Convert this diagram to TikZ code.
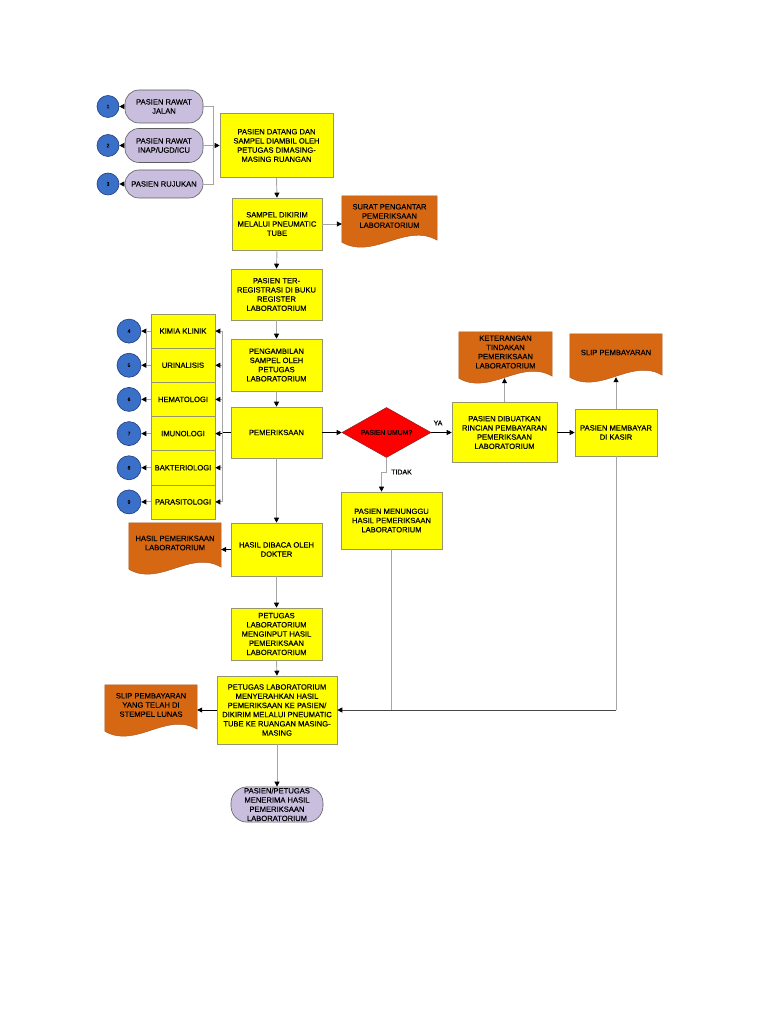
\documentclass[tikz,border=0pt]{standalone}
\usepackage{fontspec}
\setmainfont{Liberation Sans}
\newfontfamily\heavysans{Liberation Sans}[FakeBold=0.3]
\usetikzlibrary{shapes.geometric,arrows.meta,calc,backgrounds}

\definecolor{boxyellow}{RGB}{255,255,0}
\definecolor{boxedge}{RGB}{150,150,110}
\definecolor{termfill}{RGB}{201,190,222}
\definecolor{termedge}{RGB}{95,95,95}
\definecolor{numblue}{RGB}{58,112,200}
\definecolor{numedge}{RGB}{30,60,130}
\definecolor{docorange}{RGB}{214,104,20}
\definecolor{docedge}{RGB}{175,90,35}
\definecolor{diared}{RGB}{255,0,0}
\definecolor{diaedge}{RGB}{150,30,30}
\definecolor{conngray}{RGB}{165,165,165}
\definecolor{conndark}{RGB}{70,70,70}

\newcommand{\flowfont}{\heavysans\fontsize{7.6}{9.2}\selectfont}
\newcommand{\numfont}{\heavysans\fontsize{5}{6}\selectfont}

\tikzset{
  proc/.style={draw=boxedge, fill=boxyellow, line width=0.6pt, align=center, inner sep=1pt, font=\flowfont},
  term/.style={draw=termedge, fill=termfill, line width=0.6pt, rounded corners=14pt, align=center, inner sep=1pt, font=\flowfont},
  doc/.style={align=center, inner sep=1pt, font=\flowfont},
  docshape/.style={fill=docorange, draw=docedge, line width=0.5pt},
  numc/.style={circle, draw=numedge, fill=numblue, line width=0.6pt, inner sep=0pt, font=\numfont},
  decide/.style={diamond, draw=diaedge, fill=diared, line width=0.6pt, aspect=1.8, inner sep=0pt, minimum width=89pt, minimum height=50pt, font=\heavysans\fontsize{6.8}{8}\selectfont},
  lbl/.style={inner sep=1pt, font=\heavysans\fontsize{7}{8}\selectfont},
  conn/.style={draw=conngray, line width=0.9pt},
  connb/.style={draw=black, line width=0.8pt},
  connd/.style={draw=conndark, line width=0.9pt},
  arrowtip/.style={-{Triangle[black,length=5pt,width=5pt]}},
}

% document shape with a wavy lower edge
\newcommand{\docwave}[1]{%
  \filldraw[docshape] (#1.north west) -- (#1.north east) -- ($(#1.south east)+(0,4)$)
    .. controls ($(#1.south east)!0.33!(#1.south west)+(0,-14)$) and ($(#1.south west)!0.33!(#1.south east)+(0,24)$) .. ($(#1.south west)+(0,6)$) -- cycle;}

\begin{document}
\begin{tikzpicture}[x=1pt,y=-1pt]
\useasboundingbox (0,0) rectangle (768,1024);

% pasien masuk
\node (jalan) at (164,106.5) [term, minimum width=78pt, minimum height=33pt]{PASIEN RAWAT\\JALAN};
\node (inap) at (164,145.5) [term, minimum width=78pt, minimum height=34pt]{PASIEN RAWAT\\INAP/UGD/ICU};
\node (rujuk) at (164,184) [term, minimum width=78pt, minimum height=28pt]{PASIEN RUJUKAN};
\node (n1) at (108,106.5) [numc, minimum size=22pt]{1};
\node (n2) at (108,145.5) [numc, minimum size=22pt]{2};
\node (n3) at (108,184) [numc, minimum size=22pt]{3};

% alur utama
\node (datang) at (276.5,145.5) [proc, minimum width=113pt, minimum height=64pt]{PASIEN DATANG DAN\\SAMPEL DIAMBIL OLEH\\PETUGAS DIMASING-\\MASING RUANGAN};
\node (kirim) at (277,224) [proc, minimum width=90pt, minimum height=52pt]{SAMPEL DIKIRIM\\MELALUI PNEUMATIC\\TUBE};
\node (regis) at (276.5,294.5) [proc, minimum width=91pt, minimum height=51pt]{PASIEN TER-\\REGISTRASI DI BUKU\\REGISTER\\LABORATORIUM};
\node (ambil) at (276.5,365) [proc, minimum width=91pt, minimum height=52pt]{PENGAMBILAN\\SAMPEL OLEH\\PETUGAS\\LABORATORIUM};
\node (periksa) at (276.5,432.5) [proc, minimum width=91pt, minimum height=51pt]{PEMERIKSAAN};
\node (baca) at (276.5,549.5) [proc, minimum width=91pt, minimum height=53pt]{HASIL DIBACA OLEH\\DOKTER};
\node (input) at (276.5,634) [proc, minimum width=91pt, minimum height=52pt]{PETUGAS\\LABORATORIUM\\MENGINPUT HASIL\\PEMERIKSAAN\\LABORATORIUM};
\node (serah) at (277,710) [proc, minimum width=120pt, minimum height=68pt]{PETUGAS LABORATORIUM\\MENYERAHKAN HASIL\\PEMERIKSAAN KE PASIEN/\\DIKIRIM MELALUI PNEUMATIC\\TUBE KE RUANGAN MASING-\\MASING};
\node (terima) at (277,804.5) [term, minimum width=92pt, minimum height=35pt, rounded corners=16pt]{PASIEN/PETUGAS\\MENERIMA HASIL\\PEMERIKSAAN\\LABORATORIUM};

% keputusan dan pembayaran
\node (umum) at (386.5,432.5) [decide]{PASIEN UMUM?};
\node (rincian) at (504.5,432.5) [proc, minimum width=105pt, minimum height=60pt]{PASIEN DIBUATKAN\\RINCIAN PEMBAYARAN\\PEMERIKSAAN\\LABORATORIUM};
\node (bayar) at (616,432.5) [proc, minimum width=82pt, minimum height=47pt]{PASIEN MEMBAYAR\\DI KASIR};
\node (tunggu) at (391.5,520.5) [proc, minimum width=101pt, minimum height=57pt]{PASIEN MENUNGGU\\HASIL PEMERIKSAAN\\LABORATORIUM};
\node (ya) at (438,423) [lbl]{YA};
\node (tidak) at (390,472) [lbl, anchor=west]{TIDAK};

% laboratorium
\node (kimia) at (183,331.1) [proc, minimum width=64pt, minimum height=34.2pt]{KIMIA KLINIK};
\node (urin) at (183,365.25) [proc, minimum width=64pt, minimum height=34.2pt]{URINALISIS};
\node (hema) at (183,399.4) [proc, minimum width=64pt, minimum height=34.2pt]{HEMATOLOGI};
\node (imun) at (183,433.6) [proc, minimum width=64pt, minimum height=34.2pt]{IMUNOLOGI};
\node (bakt) at (183,467.75) [proc, minimum width=64pt, minimum height=34.2pt]{BAKTERIOLOGI};
\node (para) at (183,501.9) [proc, minimum width=64pt, minimum height=34.2pt]{PARASITOLOGI};
\node (n4) at (129,331.1) [numc, minimum size=24pt]{4};
\node (n5) at (129,365.25) [numc, minimum size=24pt]{5};
\node (n6) at (129,399.4) [numc, minimum size=24pt]{6};
\node (n7) at (129,433.6) [numc, minimum size=24pt]{7};
\node (n8) at (129,467.75) [numc, minimum size=24pt]{8};
\node (n9) at (129,501.9) [numc, minimum size=24pt]{9};

% dokumen
\node (surat) at (389.5,216) [doc, minimum width=95pt, minimum height=40pt]{SURAT PENGANTAR\\PEMERIKSAAN\\LABORATORIUM};
\node (ket) at (505.5,352) [doc, minimum width=93pt, minimum height=40pt]{KETERANGAN\\TINDAKAN\\PEMERIKSAAN\\LABORATORIUM};
\node (slip) at (616,352.5) [doc, minimum width=92pt, minimum height=37pt]{SLIP PEMBAYARAN};
\node (hasil) at (175,543) [doc, minimum width=92pt, minimum height=40pt]{HASIL PEMERIKSAAN\\LABORATORIUM};
\node (lunas) at (151,705) [doc, minimum width=92pt, minimum height=40pt]{SLIP PEMBAYARAN\\YANG TELAH DI\\STEMPEL LUNAS};

% panah
\draw[conn,arrowtip] (jalan.west) -- (n1.east);
\draw[conn,arrowtip] (inap.west) -- (n2.east);
\draw[conn,arrowtip] (rujuk.west) -- (n3.east);
\coordinate (inbus) at (213,145.5);
\draw[conn] (jalan.east) -- (jalan.east -| inbus) -- (rujuk.east -| inbus) -- (rujuk.east);
\draw[conn,arrowtip] (inap.east) -- (datang.west);

\draw[conn,arrowtip] (datang.south) -- (kirim.north);
\draw[conn,arrowtip] (kirim.east) -- (kirim.east -| surat.west);
\draw[conn,arrowtip] (kirim.south) -- (regis.north);
\draw[conn,arrowtip] (regis.south) -- (ambil.north);
\draw[conn,arrowtip] (ambil.south) -- (periksa.north);
\draw[connb,arrowtip] (periksa.east) -- (umum.west);
\draw[connb,arrowtip] (umum.east) -- (rincian.west);
\draw[conn,arrowtip] (rincian.north) -- ($(rincian.north |- ket.south)+(0,6)$);
\draw[connb,arrowtip] (rincian.east) -- (bayar.west);
\draw[conn,arrowtip] (bayar.north) -- ($(slip.south)+(0,6)$);
\draw[conn,arrowtip] (umum.south) -- ++(0,15) -| ([xshift=-10pt]tunggu.north);
\coordinate (merge) at (bayar.south |- serah.east);
\draw[conn] (bayar.south) -- (merge);
\draw[connd,arrowtip] (merge) -- (serah.east);
\draw[conn] (tunggu.south) -- (tunggu.south |- serah.east);

\draw[conn,arrowtip] (periksa.south) -- (baca.north);
\draw[connb,arrowtip] (baca.west) -- (baca.west -| hasil.east);
\draw[conn,arrowtip] (baca.south) -- (input.north);
\draw[conn,arrowtip] (input.south) -- (serah.north);
\draw[connb,arrowtip] (serah.west) -- (serah.west -| lunas.east);
\draw[conn,arrowtip] (serah.south) -- (terima.north);

\coordinate (labbus) at (222,432.5);
\draw[connb] (periksa.west) -- (labbus);
\draw[conn] (labbus |- kimia) -- (labbus |- para);
\draw[conn,arrowtip] (labbus |- kimia) -- (kimia.east);
\draw[conn,arrowtip] (labbus |- urin) -- (urin.east);
\draw[conn,arrowtip] (labbus |- hema) -- (hema.east);
\draw[connb,arrowtip] (labbus |- imun) -- (imun.east);
\draw[conn,arrowtip] (labbus |- bakt) -- (bakt.east);
\draw[conn,arrowtip] (labbus |- para) -- (para.east);
\draw[conn,arrowtip] (kimia.west) -- (n4.east);
\draw[conn,arrowtip] (urin.west) -- (n5.east);
\draw[conn,arrowtip] (hema.west) -- (n6.east);
\draw[conn,arrowtip] (imun.west) -- (n7.east);
\draw[conn,arrowtip] (bakt.west) -- (n8.east);
\draw[conn,arrowtip] (para.west) -- (n9.east);
\draw[conn] ($(kimia.west)+(-4,0)$) -- ($(urin.west)+(-4,0)$);

\begin{scope}[on background layer]
\fill[white] (0,0) rectangle (768,1024);
\docwave{surat}
\docwave{ket}
\docwave{slip}
\docwave{hasil}
\docwave{lunas}
\end{scope}
\end{tikzpicture}
\end{document}
